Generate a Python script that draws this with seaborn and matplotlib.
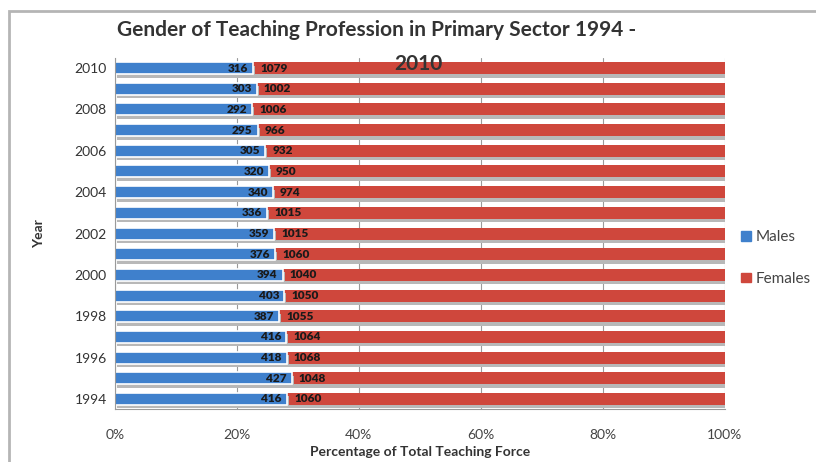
import pandas as pd
import matplotlib.pyplot as plt
import matplotlib.patheffects as pe
from matplotlib.patches import Patch, Rectangle
import seaborn as sns

# values, top bar (2010) first
years = [2010, 2009, 2008, 2007, 2006, 2005, 2004, 2003, 2002,
         2001, 2000, 1999, 1998, 1997, 1996, 1995, 1994]
males = [316, 303, 292, 295, 305, 320, 340, 336, 359,
         376, 394, 403, 387, 416, 418, 427, 416]
females = [1079, 1002, 1006, 966, 932, 950, 974, 1015, 1015,
           1060, 1040, 1050, 1055, 1064, 1068, 1048, 1060]
tick_years = [2010, 2008, 2006, 2004, 2002, 2000, 1998, 1996, 1994]

blue = "#3f80cc"
red = "#cf473c"


def plot_data():
    df = pd.DataFrame({"year": [str(y) for y in years], "males": males, "females": females})
    df["total"] = df["males"] + df["females"]
    df["male_pct"] = df["males"] / df["total"] * 100
    df["all_pct"] = 100.0

    sns.set_style("white")
    plt.rcParams["font.family"] = ["Lato", "DejaVu Sans"]

    fig = plt.figure(figsize=(8.16, 4.62), dpi=100)
    ax = fig.add_axes([0.141, 0.114, 0.747, 0.761])

    order = df["year"].tolist()
    # females fill to 100%, males drawn over them
    sns.barplot(data=df, x="all_pct", y="year", order=order, color=red,
                orient="h", width=0.58, ax=ax, saturation=1)
    n = len(ax.patches)
    sns.barplot(data=df, x="male_pct", y="year", order=order, color=blue,
                orient="h", width=0.58, ax=ax, saturation=1)

    shadow = [pe.SimplePatchShadow(offset=(1.5, -2.5), shadow_rgbFace="#b8b8b8", alpha=1), pe.Normal()]
    for k, p in enumerate(ax.patches):
        p.set_path_effects(shadow)
        if k < n:
            p.set_edgecolor("none")
        else:
            p.set_edgecolor("white")
            p.set_linewidth(1.2)

    # labels at the split
    for i, row in df.iterrows():
        ax.text(row["male_pct"] - 0.8, i, str(row["males"]), ha="right", va="center",
                fontsize=8.5, fontweight="heavy", color="#1a1a1a")
        ax.text(row["male_pct"] + 1.2, i, str(row["females"]), ha="left", va="center",
                fontsize=8.5, fontweight="heavy", color="#1a1a1a")

    ax.set_xlim(0, 100)
    ax.set_ylim(len(order) - 0.5, -0.5)
    ax.set_xticks(range(0, 101, 20))
    ax.set_xticklabels([f"{v}%" for v in range(0, 101, 20)], fontsize=10, color="#444444")
    ax.set_yticks([order.index(str(y)) for y in tick_years])
    ax.set_yticklabels([str(y) for y in tick_years], fontsize=10, color="#333333")
    ax.tick_params(axis="x", pad=14, length=0)
    ax.tick_params(axis="y", pad=6, length=0)

    ax.xaxis.grid(True, color="#9a9a9a", linewidth=0.8)
    ax.set_axisbelow(True)
    for side in ["top", "right"]:
        ax.spines[side].set_visible(False)
    ax.spines["left"].set_color("#9a9a9a")
    ax.spines["bottom"].set_color("#9a9a9a")

    ax.set_xlabel("Percentage of Total Teaching Force", fontsize=10, fontweight="bold",
                  color="#333333", labelpad=4)
    ax.set_ylabel("Year", fontsize=10, fontweight="bold", color="#333333")
    ax.yaxis.set_label_coords(-0.115, 0.5)

    fig.text(0.462, 0.935, "Gender of Teaching Profession in Primary Sector 1994 -",
             ha="center", va="center", fontsize=15, fontweight="bold", color="#333333")
    fig.text(0.513, 0.862, "2010", ha="center", va="center", fontsize=15,
             fontweight="bold", color="#333333")

    handles = [Patch(color=blue, label="Males"), Patch(color=red, label="Females")]
    ax.legend(handles=handles, loc="center left", bbox_to_anchor=(1.005, 0.43),
              frameon=False, fontsize=11, handlelength=0.6, handleheight=0.6,
              handletextpad=0.3, labelspacing=1.8, labelcolor="#444444")

    fig.patches.append(Rectangle((0.011, -0.05), 1.1, 1.027, transform=fig.transFigure,
                                 fill=False, edgecolor="#b5b5b5", linewidth=2))

    fig.savefig("out.png", dpi=100)


if __name__ == "__main__":
    plot_data()
